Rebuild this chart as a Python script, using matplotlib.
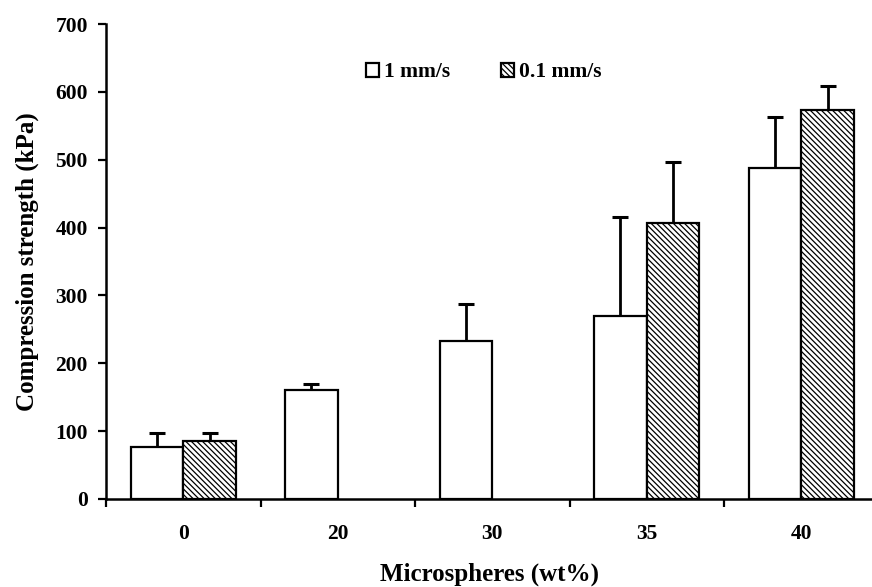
import matplotlib
matplotlib.use("Agg")
import matplotlib.pyplot as plt
import numpy as np

plt.rcParams['font.family'] = ['Liberation Serif', 'DejaVu Serif']
plt.rcParams['font.weight'] = 'bold'
plt.rcParams['hatch.linewidth'] = 0.9

categories = ['0', '20', '30', '35', '40']
fast_mean = np.array([77, 161, 233, 270, 488], dtype=float)
fast_err = np.array([21, 8, 54, 145, 75], dtype=float)
slow_mean = np.array([85, np.nan, np.nan, 407, 573], dtype=float)
slow_err = np.array([12, np.nan, np.nan, 89, 36], dtype=float)
legend_labels = ['1 mm/s', '0.1 mm/s']

fig = plt.figure(figsize=(8.72, 5.87), dpi=100)
ax = fig.add_axes([106 / 872, 1 - 499 / 587, 1 - 106 / 872, (499 - 24) / 587])

x = np.arange(len(categories))
w = 0.34


def upper_error(xpos, mean, err):
    # one-sided (upper) error bars: stem plus a cap on top
    ok = ~np.isnan(mean)
    ax.vlines(xpos[ok], mean[ok], (mean + err)[ok], colors='black', linewidth=2.0, zorder=2)
    ax.plot(xpos[ok], (mean + err)[ok], ls='none', marker='_', ms=12, mew=2.2,
            color='black', zorder=2)


ax.bar(x - w / 2, fast_mean, w, color='white', edgecolor='black', linewidth=1.6,
       label=legend_labels[0], zorder=3)
ax.bar(x + w / 2, slow_mean, w, color='white', edgecolor='black', linewidth=1.6,
       hatch='\\\\\\\\\\\\', label=legend_labels[1], zorder=3)
upper_error(x - w / 2, fast_mean, fast_err)
upper_error(x + w / 2, slow_mean, slow_err)

ax.set_ylim(0, 700)
ax.set_yticks(np.arange(0, 701, 100))
ax.set_xlim(-0.5, -0.5 + (872 - 106) / 154.5)
ax.set_xticks(np.arange(-0.5, 4.0, 1.0))
ax.set_xticklabels([])
ax.set_xticks(x, minor=True)
ax.set_xticklabels(categories, minor=True)
ax.tick_params(axis='x', which='minor', length=0, pad=18, labelsize=15.5)
ax.tick_params(axis='x', which='major', length=6, width=1.6, direction='out')
ax.tick_params(axis='y', length=6, width=1.6, direction='out', labelsize=15.5, pad=7)

for s in ['top', 'right']:
    ax.spines[s].set_visible(False)
for s in ['left', 'bottom']:
    ax.spines[s].set_linewidth(1.8)

ax.set_ylabel('Compression strength (kPa)', fontsize=18, fontweight='bold', labelpad=12)
ax.set_xlabel('Microspheres (wt%)', fontsize=18, fontweight='bold')
ax.xaxis.set_label_coords(0.501, -0.133)

leg = ax.legend(loc='upper center', bbox_to_anchor=(0.493, 0.96), ncol=2, frameon=False,
                fontsize=15.5, handlelength=0.6, handleheight=0.6, handletextpad=0.25,
                columnspacing=2.35)

fig.savefig('out.png', dpi=100)
